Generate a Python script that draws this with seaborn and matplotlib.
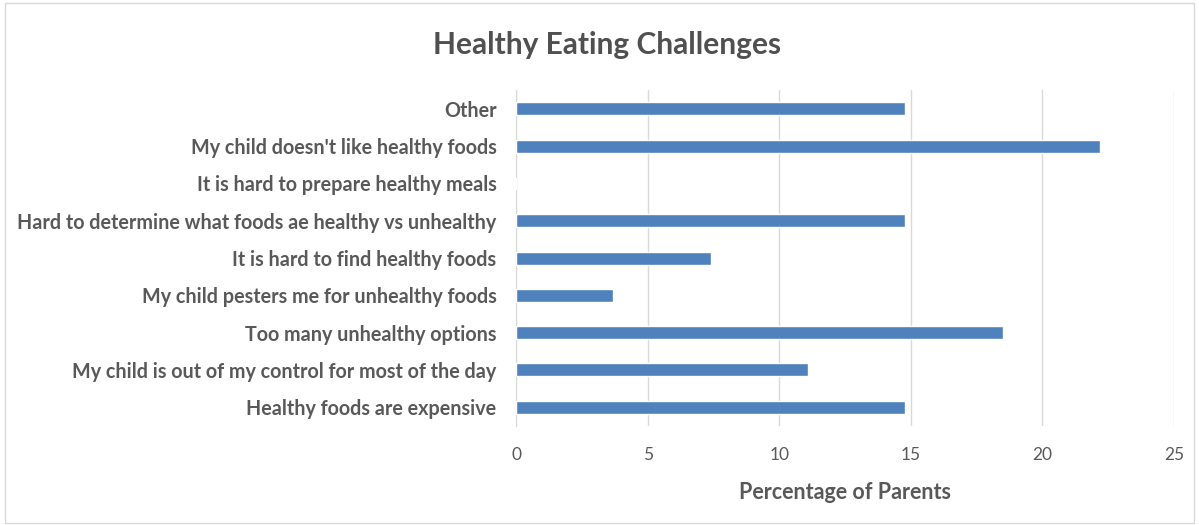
import matplotlib
matplotlib.use("Agg")
import matplotlib.pyplot as plt
import seaborn as sns
import pandas as pd

# Survey answers (percentage of parents), top to bottom as in the chart
challenges = [
    "Other",
    "My child doesn't like healthy foods",
    "It is hard to prepare healthy meals",
    "Hard to determine what foods ae healthy vs unhealthy",
    "It is hard to find healthy foods",
    "My child pesters me for unhealthy foods",
    "Too many unhealthy options",
    "My child is out of my control for most of the day",
    "Healthy foods are expensive",
]
percentages = [14.8, 22.2, 0.0, 14.8, 7.4, 3.7, 18.5, 11.1, 14.8]
x_ticks = [0, 5, 10, 15, 20, 25]

df = pd.DataFrame({"challenge": challenges, "pct": percentages})

sns.set_style("white")
plt.rcParams["font.family"] = ["Lato", "DejaVu Sans"]

grey = "#595959"
fig = plt.figure(figsize=(11.99, 5.25), dpi=100)
ax = fig.add_axes([0.4304, 0.189, 0.5486, 0.639])

sns.barplot(data=df, x="pct", y="challenge", color="#4F81BD", width=0.35,
            saturation=1, ax=ax, zorder=3)

ax.set_xlim(0, 25)
ax.set_xticks(x_ticks)
ax.set_xticklabels([str(t) for t in x_ticks], color=grey, fontsize=12.5)
ax.xaxis.grid(True, color="#D9D9D9", linewidth=1, zorder=0)
ax.set_axisbelow(True)
ax.tick_params(axis="x", length=0, pad=15)
ax.tick_params(axis="y", length=0, pad=14)
for lbl in ax.get_yticklabels():
    lbl.set_fontweight("bold")
    lbl.set_color(grey)
    lbl.set_fontsize(14.2)

for side in ["top", "right", "bottom"]:
    ax.spines[side].set_visible(False)
ax.spines["left"].set_color("#D9D9D9")

ax.set_ylabel("")
ax.set_xlabel("Percentage of Parents", fontsize=15.5, fontweight="bold",
              color=grey, labelpad=14)
fig.text(0.506, 0.915, "Healthy Eating Challenges", ha="center", va="center",
         fontsize=21.5, color="#505050", fontweight="bold")

# light frame around the chart area
fig.patches.append(plt.Rectangle((0.004, 0.004), 0.992, 0.99, transform=fig.transFigure,
                                 fill=False, edgecolor="#D9D9D9", linewidth=1))

fig.savefig("out.png", dpi=100)
